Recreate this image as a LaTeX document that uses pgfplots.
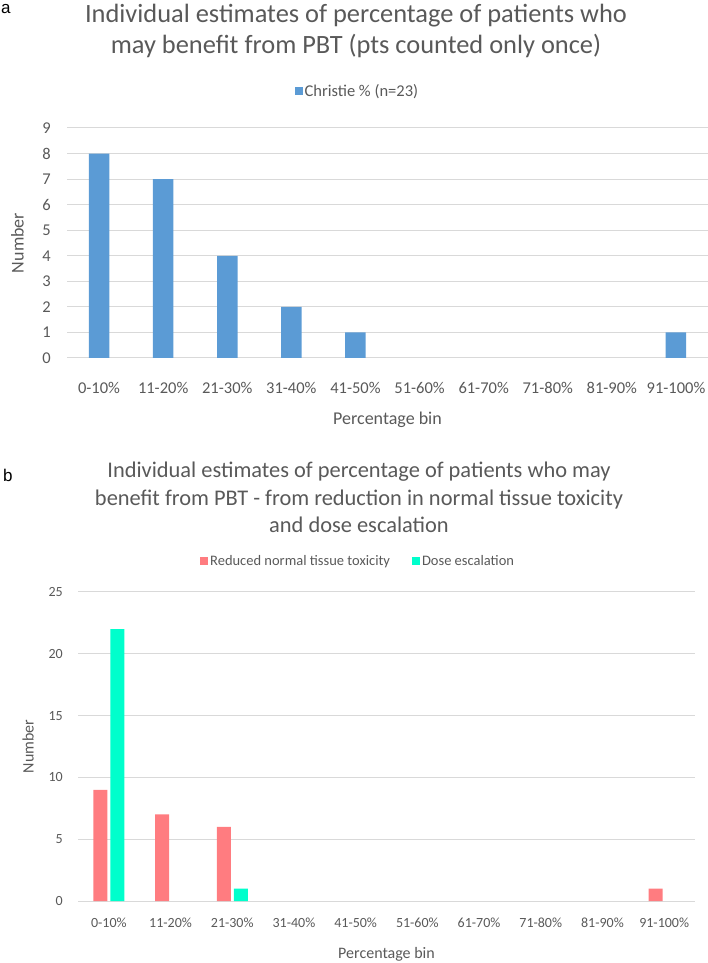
\documentclass[border=0pt]{standalone}
\usepackage{pgfplots}
\pgfplotsset{compat=1.18}
\usepackage{fontspec}
\setmainfont{Carlito}
\newfontfamily\arialfont{Liberation Sans}
\definecolor{txt}{HTML}{595959}
\definecolor{gridc}{HTML}{D9D9D9}
\definecolor{cblue}{HTML}{5B9BD5}
\definecolor{cred}{HTML}{FF7C80}
\definecolor{cteal}{HTML}{00FFCC}
\pgfplotsset{excel/.style={
  scale only axis, axis line style={draw=none}, major tick length=0pt,
  ymajorgrids, grid style={gridc, line width=1pt},
  xmin=-0.5, xmax=9.5, xtick={0,...,9},
  xticklabels={0-10\%,11-20\%,21-30\%,31-40\%,41-50\%,51-60\%,61-70\%,71-80\%,81-90\%,91-100\%},
  ymin=0, tick label style={text=txt}, label style={text=txt},
  legend style={draw=none, fill=none, text=txt, legend columns=-1,
    /tikz/every even column/.append style={column sep=20pt}},
  xlabel={Percentage bin}, ylabel={Number},
  enlargelimits=false, clip=false,
  /pgf/number format/assume math mode=true
}}
\begin{document}
\begin{tikzpicture}
\path[use as bounding box] (0pt,0pt) rectangle (708pt,963pt);
% Panel a
\begin{axis}[excel, at={(67pt,605pt)}, anchor=south west, width=641pt, height=230pt,
  ymax=9, ytick={0,...,9}, ybar, bar width=20.5pt,
  legend image code/.code={\fill[#1, draw=none] (0pt,-4pt) rectangle (8pt,4pt);},
  xticklabel style={font=\fontsize{16.5}{18}\selectfont, anchor=center, yshift=-29.5pt},
  yticklabel style={font=\fontsize{16.5}{18}\selectfont, anchor=east, inner sep=0pt, xshift=-16pt},
  xlabel style={font=\fontsize{18}{20}\selectfont, at={(axis description cs:0.5,0)}, anchor=base, yshift=-67pt},
  ylabel style={font=\fontsize{18}{20}\selectfont, at={(axis description cs:-0.0772,0.5)}, anchor=center},
  legend style={font=\fontsize{16.5}{18}\selectfont, at={(axis description cs:0.453,1)}, anchor=center, yshift=36.5pt}]
\addplot[fill=cblue, draw=none] coordinates {(0,8) (1,7) (2,4) (3,2) (4,1) (9,1)};
\addlegendentry{Christie \% (n=23)}
\end{axis}
% Panel b
\begin{axis}[excel, at={(78pt,62pt)}, anchor=south west, width=617pt, height=309pt,
  ymax=25, ytick={0,5,...,25}, ybar=3pt, bar width=14pt,
  legend image code/.code={\fill[#1, draw=none] (0pt,-4pt) rectangle (8pt,4pt);},
  xticklabel style={font=\fontsize{14}{16}\selectfont, anchor=center, yshift=-22pt},
  yticklabel style={font=\fontsize{14}{16}\selectfont, anchor=east, inner sep=0pt, xshift=-15pt},
  xlabel style={font=\fontsize{16}{18}\selectfont, at={(axis description cs:0.5,0)}, anchor=base, yshift=-57pt},
  ylabel style={font=\fontsize{16}{18}\selectfont, at={(axis description cs:-0.081,0.5)}, anchor=center},
  legend style={font=\fontsize{14.5}{16}\selectfont, at={(axis description cs:0.454,1)}, anchor=center, yshift=30.5pt}]
\addplot[fill=cred, draw=none] coordinates {(0,9) (1,7) (2,6) (9,1)};
\addlegendentry{Reduced normal tissue toxicity}
\addplot[fill=cteal, draw=none] coordinates {(0,22) (2,1)};
\addlegendentry{Dose escalation}
\end{axis}
% Titles
\node[anchor=base, text=txt, inner sep=0pt, font=\fontsize{26.4}{30}\selectfont] at (356pt,940pt) {Individual estimates of percentage of patients who};
\node[anchor=base, text=txt, inner sep=0pt, font=\fontsize{26.4}{30}\selectfont] at (356pt,909pt) {may benefit from PBT (pts counted only once)};
\node[anchor=base, text=txt, inner sep=0pt, font=\fontsize{22.4}{26}\selectfont] at (359pt,485pt) {Individual estimates of percentage of patients who may};
\node[anchor=base, text=txt, inner sep=0pt, font=\fontsize{22.4}{26}\selectfont] at (359pt,457pt) {benefit from PBT - from reduction in normal tissue toxicity};
\node[anchor=base, text=txt, inner sep=0pt, font=\fontsize{22.4}{26}\selectfont] at (359pt,430pt) {and dose escalation};
\node[anchor=base west, inner sep=0pt, font=\arialfont\fontsize{17}{20}\selectfont] at (1pt,949pt) {a};
\node[anchor=base west, inner sep=0pt, font=\arialfont\fontsize{17}{20}\selectfont] at (3pt,481pt) {b};
\end{tikzpicture}
\end{document}
